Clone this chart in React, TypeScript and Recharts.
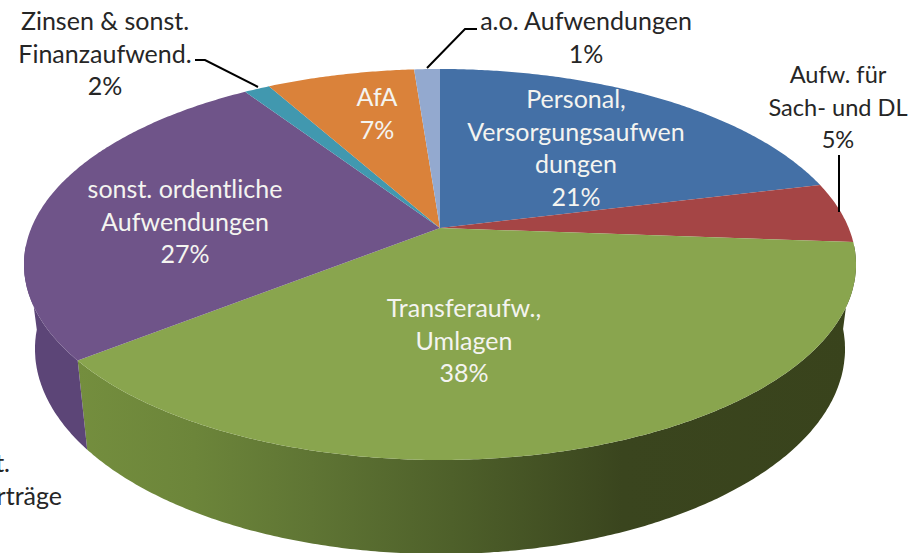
import { PieChart, Pie, Cell } from "recharts"

const CATEGORIES = [
  "Personal, Versorgungsaufwendungen",
  "Aufw. für Sach- und DL",
  "Transferaufw., Umlagen",
  "sonst. ordentliche Aufwendungen",
  "Zinsen & sonst. Finanzaufwend.",
  "AfA",
  "a.o. Aufwendungen",
]
const VALUES = [21.2, 5.0, 38.2, 26.4, 1.2, 6.9, 1.2]
const PERCENT_LABELS = ["21%", "5%", "38%", "27%", "2%", "7%", "1%"]
const LABEL_LINES = [
  ["Personal,", "Versorgungsaufwen", "dungen"],
  ["Aufw. für", "Sach- und DL"],
  ["Transferaufw.,", "Umlagen"],
  ["sonst. ordentliche", "Aufwendungen"],
  ["Zinsen & sonst.", "Finanzaufwend."],
  ["AfA"],
  ["a.o. Aufwendungen"],
]
const COLORS = ["#4470a6", "#a54545", "#89a54e", "#6f5489", "#4198af", "#da823a", "#93a9cf"]

// label anchor (centre x, first baseline y) per slice
const LABEL_POS = [
  [576, 108],
  [838, 83],
  [464, 317],
  [185, 198],
  [105, 30],
  [377, 106],
  [586, 30],
]
const LABEL_SIZE = [25, 23.6, 25, 25, 25, 25, 25]
const OUTSIDE = [false, true, false, false, true, false, true]
const LEADERS: Record<number, string> = {
  1: "839,155 839,212",
  4: "195,60 205,60 258,87",
  6: "477,29 465,29 427,68",
}

const FONT = "Lato, sans-serif"
const LINE_H = 32.5

// pie plane -> screen (perspective, apex is not the ellipse centre)
const APEX_X = 440
const APEX_Y = 228
const PERSP_C = 0.1867
const PERSP_A = -146.1
const PERSP_K = 408.7
const TOP_ELLIPSE = { cy: 264.5, rx: 416, ry: 195.5 }
const BOTTOM_ELLIPSE = { cy: 349, rx: 405, ry: 205 }

const project = (theta: number) => {
  const rad = (theta * Math.PI) / 180
  const u = Math.sin(rad)
  const v = Math.cos(rad)
  const d = 1 + PERSP_C * v
  return { x: APEX_X + (PERSP_K * u) / d, y: (APEX_Y + PERSP_A * v) / d }
}

const lowerRim = (p: { x: number; y: number }) => {
  const s = (p.x - APEX_X) / TOP_ELLIPSE.rx
  const c = (TOP_ELLIPSE.cy - p.y) / TOP_ELLIPSE.ry
  return {
    x: APEX_X + BOTTOM_ELLIPSE.rx * s,
    y: BOTTOM_ELLIPSE.cy - BOTTOM_ELLIPSE.ry * c,
  }
}

const WALL_FILL: Record<number, string> = {
  2: "url(#greenWall)",
  3: "#5c4577",
}

const Slice3D = (props: any) => {
  const { startAngle, endAngle, index } = props
  const from = 90 - startAngle
  const to = 90 - endAngle
  const top: { x: number; y: number }[] = []
  const steps = Math.max(2, Math.ceil((to - from) / 0.5))
  for (let i = 0; i <= steps; i++) {
    top.push(project(from + ((to - from) * i) / steps))
  }
  const face =
    `M${APEX_X},${APEX_Y} ` + top.map((p) => `L${p.x.toFixed(1)},${p.y.toFixed(1)}`).join(" ") + " Z"
  const visible = top.filter((p) => p.y >= TOP_ELLIPSE.cy - 20)
  const wallFill = WALL_FILL[index]
  const wall =
    wallFill && visible.length > 1
      ? [...visible, ...visible.map(lowerRim).reverse()]
          .map((p) => `${p.x.toFixed(1)},${p.y.toFixed(1)}`)
          .join(" ")
      : null
  return (
    <g>
      {wall && <polygon points={wall} fill={wallFill} />}
      <path d={face} fill={COLORS[index]} />
    </g>
  )
}

const SliceLabel = (props: any) => {
  const { index } = props
  const [x, y] = LABEL_POS[index]
  const lines = [...LABEL_LINES[index], PERCENT_LABELS[index]]
  return (
    <g>
      {LEADERS[index] && (
        <polyline points={LEADERS[index]} fill="none" stroke="#000" strokeWidth={2} />
      )}
      <text
        x={x}
        y={y}
        textAnchor="middle"
        fontFamily={FONT}
        fontSize={LABEL_SIZE[index]}
        fill={OUTSIDE[index] ? "#262626" : "#f4f4f0"}
      >
        {lines.map((line, i) => (
          <tspan key={i} x={x} y={y + i * LINE_H}>
            {line}
          </tspan>
        ))}
      </text>
    </g>
  )
}

export default function App() {
  const data = CATEGORIES.map((name, i) => ({ name, value: VALUES[i] }))
  return (
    <div style={{ position: "absolute", left: 0, top: 0, width: 912, height: 553, background: "#fff" }}>
      <PieChart width={912} height={553} margin={{ top: 0, right: 0, bottom: 0, left: 0 }}>
        <defs>
          <linearGradient id="greenWall" gradientUnits="userSpaceOnUse" x1="78" y1="0" x2="856" y2="0">
            <stop offset="0" stopColor="#748e3e" />
            <stop offset="0.15" stopColor="#6c853a" />
            <stop offset="0.3" stopColor="#5f7534" />
            <stop offset="0.48" stopColor="#4e602a" />
            <stop offset="0.7" stopColor="#3a451e" />
            <stop offset="1" stopColor="#39431c" />
          </linearGradient>
        </defs>
        <Pie
          data={data}
          dataKey="value"
          nameKey="name"
          cx={APEX_X}
          cy={APEX_Y}
          outerRadius={160}
          startAngle={90}
          endAngle={-270}
          stroke="none"
          shape={Slice3D}
          label={SliceLabel}
          labelLine={false}
          isAnimationActive={false}
        >
          {data.map((d, i) => (
            <Cell key={d.name} fill={COLORS[i]} />
          ))}
        </Pie>
        <text textAnchor="end" fontFamily={FONT} fontSize={25} fill="#262626">
          <tspan x={10} y={472}>sonst.</tspan>
          <tspan x={62} y={505}>Erträge</tspan>
        </text>
      </PieChart>
    </div>
  )
}
